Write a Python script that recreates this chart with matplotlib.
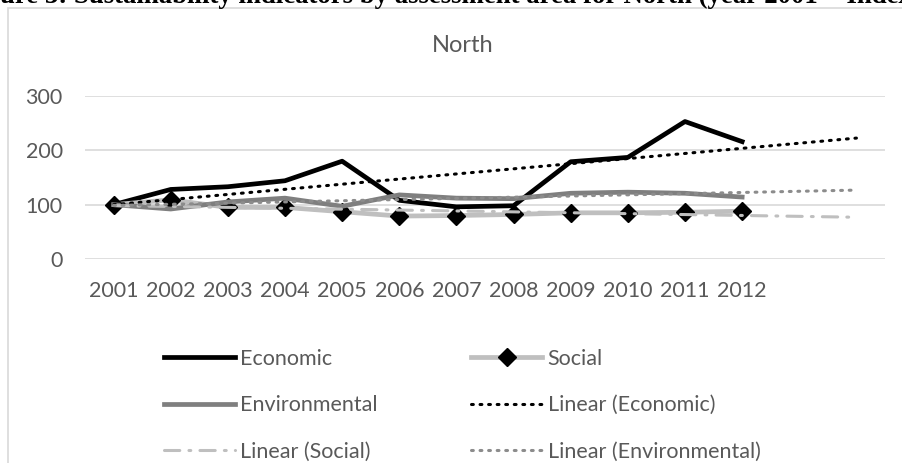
import numpy as np
import matplotlib
matplotlib.use("Agg")
import matplotlib.pyplot as plt
from matplotlib.patches import Rectangle

years = ["2001", "2002", "2003", "2004", "2005", "2006",
         "2007", "2008", "2009", "2010", "2011", "2012"]
economic = [100, 128, 133, 144, 180, 108, 96, 98, 179, 187, 253, 216]
social = [100, 109, 95, 95, 87, 79, 80, 82, 85, 85, 86, 88]
environmental = [100, 92, 105, 112, 97, 118, 112, 111, 121, 123, 121, 114]
forecast = 2  # trendlines go 2 periods forward

W, H = 902, 463
fig = plt.figure(figsize=(W / 100, H / 100), dpi=100)
plt.rcParams["font.family"] = ["Lato", "DejaVu Sans"]
txt = "#595959"

# chart frame (cut by the picture edge)
fig.patches.append(Rectangle((8 / W, -0.1), 1.2, 1 - 8 / H + 0.1, transform=fig.transFigure,
                             fill=False, edgecolor="#D9D9D9", lw=1.2))

# caption above the chart, cropped at the top in the source
fig.text(0 / W, 1 - 3 / H, "ure 3: Sustainability indicators by assessment area for North (year 2001 = Index",
         family=["Liberation Serif", "DejaVu Serif"], weight="bold", fontsize=19.3,
         va="baseline", ha="left", color="black")

ax = fig.add_axes([85 / W, (H - 259) / H, 800 / W, 163 / H])
x = np.arange(len(years))
xt = np.arange(len(years) + forecast)

ax.plot(x, economic, color="black", lw=3.4, label="Economic")
ax.plot(x, social, color="#BFBFBF", lw=3.4, marker="D", markersize=9.5,
        markerfacecolor="black", markeredgecolor="black", label="Social")
ax.plot(x, environmental, color="#7F7F7F", lw=3.4, label="Environmental")

for vals, col, ls, lab in [
    (economic, "black", (0, (0.6, 2.2)), "Linear (Economic)"),
    (social, "#BFBFBF", (0, (5, 3, 0.6, 3)), "Linear (Social)"),
    (environmental, "#8C8C8C", (0, (0.6, 2.2)), "Linear (Environmental)"),
]:
    k, b = np.polyfit(x, vals, 1)
    ax.plot(xt, k * xt + b, color=col, lw=2.2, ls=ls, dash_capstyle="round", label=lab)

ax.set_xlim(-0.5, len(xt) - 0.5)
ax.set_ylim(0, 300)
ax.set_yticks([0, 100, 200, 300])
ax.set_xticks(x)
ax.set_xticklabels(years)
ax.tick_params(length=0, labelsize=15.5, labelcolor=txt)
ax.tick_params(axis="x", pad=16)
ax.tick_params(axis="y", pad=16)
ax.grid(axis="y", color="#D9D9D9", lw=1.2)
ax.set_axisbelow(True)
for s in ax.spines.values():
    s.set_visible(False)

fig.text(463 / W, 1 - 45 / H, "North", ha="center", va="center", fontsize=17, color=txt)

h, l = ax.get_legend_handles_labels()
order = [0, 2, 4, 1, 3, 5]
leg = fig.legend([h[i] for i in order], [l[i] for i in order], ncol=2,
                 loc="upper left", bbox_to_anchor=(155 / W, 1 - 340 / H),
                 frameon=False, fontsize=15.5, labelcolor=txt,
                 handlelength=3.3, handletextpad=0.25, columnspacing=4.35,
                 labelspacing=1.23, borderaxespad=0)

fig.savefig("out.png", dpi=100)
